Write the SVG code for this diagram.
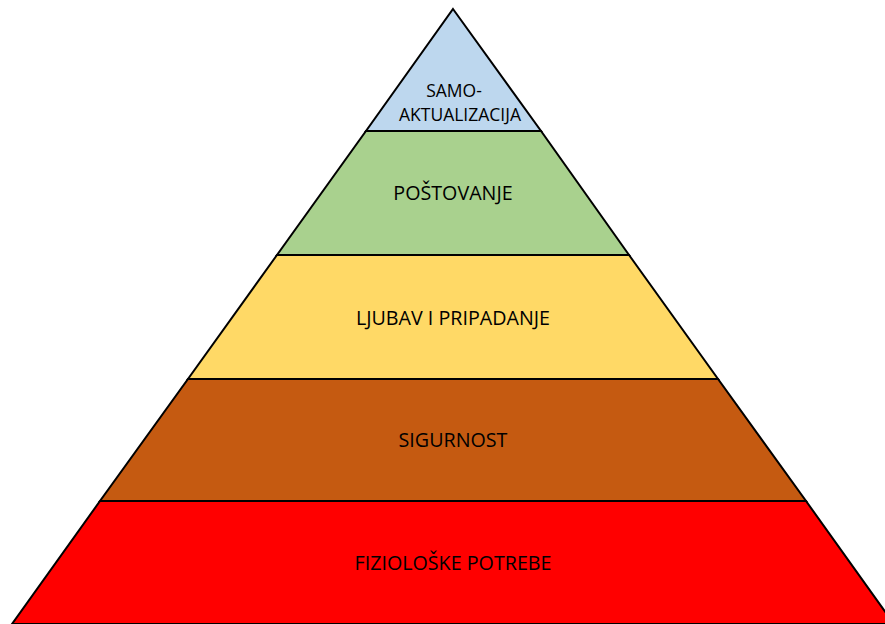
<svg xmlns="http://www.w3.org/2000/svg" width="885" height="624" viewBox="0 0 885 624">
<style>
.t{stroke:#000;stroke-width:2;stroke-linejoin:miter}
.l{font-family:"Open Sans","Liberation Sans",sans-serif;font-size:19.7px;fill:#000;text-anchor:middle;dominant-baseline:central}
.s{font-size:17.5px;dominant-baseline:alphabetic}
</style>
<rect width="885" height="624" fill="#fff"/>
<g id="fiziologske"><polygon class="t" points="100,501 806,501 894,624 12,624" fill="#FF0000"/><text class="l" x="453" y="562">FIZIOLOŠKE POTREBE</text></g>
<g id="sigurnost"><polygon class="t" points="188,379 718,379 806,501 100,501" fill="#C55A11"/><text class="l" x="453" y="439">SIGURNOST</text></g>
<g id="ljubav"><polygon class="t" points="277,255 629,255 718,379 188,379" fill="#FFD966"/><text class="l" x="453" y="317">LJUBAV I PRIPADANJE</text></g>
<g id="postovanje"><polygon class="t" points="366,131 541,131 629,255 277,255" fill="#A9D18E"/><text class="l" x="453" y="192">POŠTOVANJE</text></g>
<g id="samoaktualizacija"><polygon class="t" points="453,9 541,131 366,131" fill="#BDD7EE"/><text class="l s" x="454" y="97">SAMO-</text><text class="l s" x="460" y="121">AKTUALIZACIJA</text></g>
</svg>
